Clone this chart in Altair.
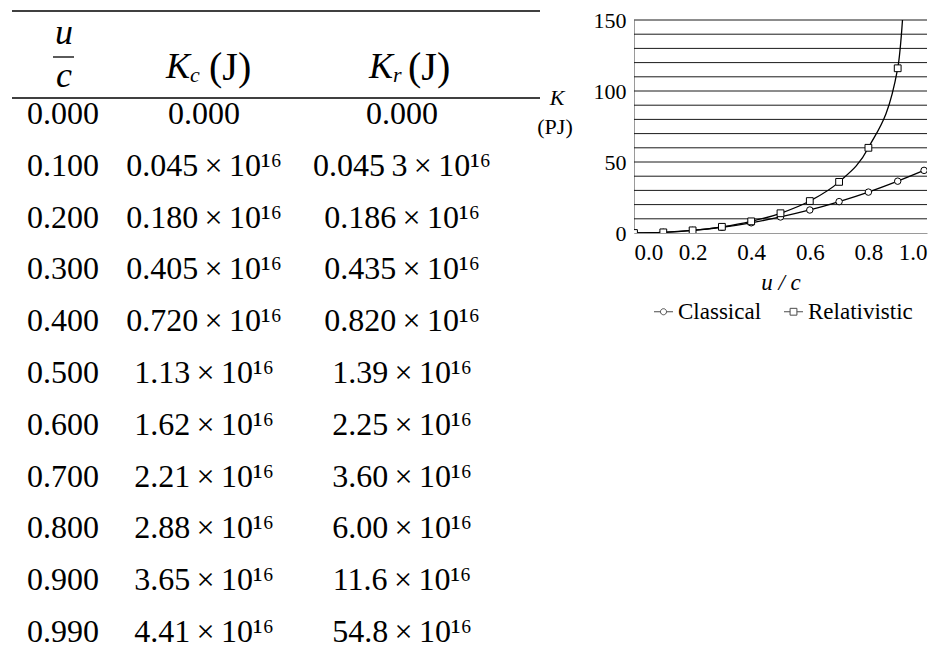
import altair as alt
import pandas as pd

# ---------------- data ----------------
u_c = [0.0, 0.1, 0.2, 0.3, 0.4, 0.5, 0.6, 0.7, 0.8, 0.9, 0.99]
u_c_labels = ["0.000", "0.100", "0.200", "0.300", "0.400", "0.500",
              "0.600", "0.700", "0.800", "0.900", "0.990"]
kc_labels = ["0.000", "0.045", "0.180", "0.405", "0.720", "1.13",
             "1.62", "2.21", "2.88", "3.65", "4.41"]
kr_labels = ["0.000", "0.045\u20093", "0.186", "0.435", "0.820", "1.39",
             "2.25", "3.60", "6.00", "11.6", "54.8"]
kc_mantissa = [0.0, 0.045, 0.180, 0.405, 0.720, 1.13, 1.62, 2.21, 2.88, 3.65, 4.41]
kr_mantissa = [0.0, 0.0453, 0.186, 0.435, 0.820, 1.39, 2.25, 3.60, 6.00, 11.6, 54.8]
exponent = 16
series = ["Classical", "Relativistic"]
x_ticks = [0.0, 0.2, 0.4, 0.6, 0.8, 1.0]
y_ticks = [0, 50, 100, 150]
grid_values = [10, 20, 30, 40, 50, 60, 70, 80, 90, 100, 110, 120, 130, 140, 150]

# ---------------- layout / style ----------------
FONT = "Liberation Serif"
PF = 23                   # plot text size
W, H = 293, 213
OX, OY = 634, 20          # absolute position of the plot area on the page


def rx(v):
    return v - OX


def ry(v):
    return v - OY


SUP = str.maketrans("0123456789", "⁰¹²³⁴⁵⁶⁷⁸⁹")


def sci(mant):
    if float(mant.replace("\u2009", "")) == 0:
        return mant
    return f"{mant}\u2009×\u200910{str(exponent).translate(SUP)}"


# PJ values (mantissa x 10^16 J = mantissa x 10 PJ)
plot_df = pd.DataFrame({
    "u": u_c + u_c,
    "K": [m * 10 for m in kc_mantissa] + [m * 10 for m in kr_mantissa],
    "series": [series[0]] * len(u_c) + [series[1]] * len(u_c),
})

table_df = pd.DataFrame({
    "row": list(range(len(u_c))),
    "uc": u_c_labels,
    "kc": [sci(s) for s in kc_labels],
    "kr": [sci(s) for s in kr_labels],
})

one = pd.DataFrame({"k": [0]})

x_enc = alt.X(
    "u:Q",
    scale=alt.Scale(domain=[0, 1], nice=False),
    axis=alt.Axis(values=x_ticks, format=".1f", title="u / c", grid=False,
                  ticks=False, domain=True, domainColor="#9a9a9a",
                  labelFont=FONT, labelFontSize=PF, labelColor="black",
                  labelPadding=8, titleFont=FONT, titleFontSize=PF,
                  titleFontStyle="italic", titleFontWeight="normal",
                  titleColor="black", titlePadding=7),
)
y_scale = alt.Scale(domain=[0, 150], nice=False)
y_axis = alt.Axis(values=y_ticks, title=None, grid=False, ticks=False,
                  domain=True, domainColor="#9a9a9a", labelFont=FONT,
                  labelFontSize=PF - 1, labelColor="black", labelPadding=8)

grid = alt.Chart(pd.DataFrame({"g": grid_values})).mark_rule(
    color="#1a1a1a", strokeWidth=1
).encode(y=alt.Y("g:Q", scale=y_scale, axis=y_axis))

base = alt.Chart(plot_df)
lines = base.mark_line(color="black", strokeWidth=1.3, interpolate="monotone",
                       clip=True).encode(
    x=x_enc, y=alt.Y("K:Q", scale=y_scale, axis=y_axis), detail="series:N")

pts_c = base.transform_filter(alt.datum.series == series[0]).mark_point(
    shape="circle", size=42, filled=True, fill="white", stroke="black",
    strokeWidth=1, opacity=1, clip=True
).encode(x=x_enc, y=alt.Y("K:Q", scale=y_scale, axis=y_axis))

pts_r = base.transform_filter(alt.datum.series == series[1]).mark_point(
    shape="square", size=46, filled=True, fill="white", stroke="black",
    strokeWidth=1, opacity=1, clip=True
).encode(x=x_enc, y=alt.Y("K:Q", scale=y_scale, axis=y_axis))

path_c = ("M-1,0L-0.32,0M0.32,0L1,0M-0.32,0A0.32,0.32,0,1,0,0.32,0"
          "A0.32,0.32,0,1,0,-0.32,0Z")
path_r = ("M-1,0L-0.36,0M0.36,0L1,0M-0.36,-0.36L0.36,-0.36L0.36,0.36L-0.36,0.36Z")

legend_layer = alt.Chart(pd.DataFrame({"series": series})).transform_filter(
    "false"
).mark_point(filled=False, color="black", strokeWidth=1).encode(
    shape=alt.Shape("series:N",
                    scale=alt.Scale(domain=series, range=[path_c, path_r]),
                    legend=alt.Legend(orient="none", legendX=rx(652),
                                      legendY=ry(300), direction="horizontal",
                                      columns=2, title=None, padding=0,
                                      symbolSize=361, symbolStrokeWidth=1,
                                      symbolStrokeColor="black",
                                      symbolFillColor="white",
                                      labelFont=FONT, labelFontSize=PF,
                                      labelColor="black", labelOffset=3,
                                      columnPadding=20))
)

plot = alt.layer(grid, lines, pts_c, pts_r, legend_layer)

# ---------------- table ----------------
row_y = alt.Y("row:Q", scale=alt.Scale(domain=[0, 10], range=[ry(114), ry(632)]),
              axis=None)


def col(field, xabs):
    return alt.Chart(table_df).mark_text(
        font=FONT, fontSize=32, align="center", baseline="middle", color="black"
    ).encode(x=alt.value(rx(xabs)), y=row_y, text=f"{field}:N")


table = alt.layer(col("uc", 63), col("kc", 204), col("kr", 402))


def txt(s, xabs, yabs, size, style="normal", align="left", baseline="alphabetic"):
    return alt.Chart(one).mark_text(
        font=FONT, fontSize=size, fontStyle=style, align=align,
        baseline=baseline, color="black"
    ).encode(x=alt.value(rx(xabs)), y=alt.value(ry(yabs)), text=alt.value(s))


def hrule(x1, x2, yabs, w=1.5):
    return alt.Chart(one).mark_rule(color="black", strokeWidth=w).encode(
        x=alt.value(rx(x1)), x2=alt.value(rx(x2)), y=alt.value(ry(yabs)))


headers = [
    hrule(12, 540, 11),
    hrule(12, 540, 98),
    hrule(53, 74, 57, 1.3),
    txt("u", 64, 44, 36, "italic", "center"),
    txt("c", 64, 87, 36, "italic", "center"),
    txt("K", 166, 78, 36, "italic"),
    txt("c", 190, 82, 22, "italic"),
    txt("(J)", 209, 80, 40),
    txt("K", 369, 78, 36, "italic"),
    txt("r", 393, 82, 22, "italic"),
    txt("(J)", 408, 80, 40),
    txt("K", 557, 98, 22, "italic", "center", "middle"),
    txt("(PJ)", 555, 127, 22, "normal", "center", "middle"),
]

chart = alt.layer(plot, table, *headers).resolve_scale(y="independent").properties(
    width=W, height=H,
    autosize=alt.AutoSizeParams(type="none"),
    padding={"left": OX - 8, "top": OY - 8, "right": 13, "bottom": 417},
    background="white",
).configure_view(stroke=None)

chart.save("out.html", embed_options={"renderer": "svg", "actions": False})
